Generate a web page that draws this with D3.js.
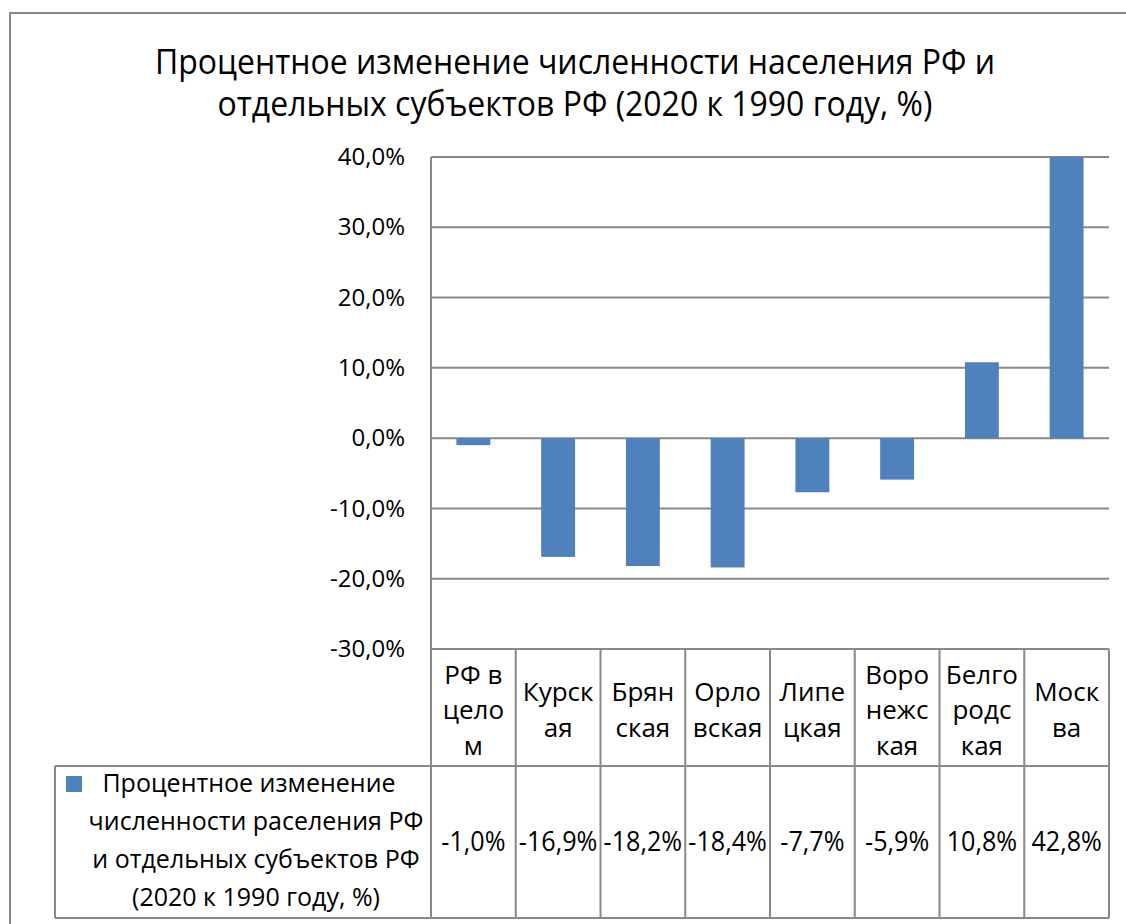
<!DOCTYPE html>
<html>
<head>
<meta charset="utf-8">
<script src="https://cdn.jsdelivr.net/npm/d3@7"></script>
<style>
  body { margin: 0; background: #fff; }
  svg text { font-family: "Open Sans", "DejaVu Sans", sans-serif; fill: #000; }
</style>
</head>
<body>
<div id="chart"></div>
<script>

var width = 1126;
var height = 924;

// data
var categories = ["РФ в целом", "Курская", "Брянская", "Орловская", "Липецкая", "Воронежская", "Белгородская", "Москва"];
var categoryLines = [["РФ в", "цело", "м"], ["Курск", "ая"], ["Брян", "ская"], ["Орло", "вская"], ["Липе", "цкая"], ["Воро", "нежс", "кая"], ["Белго", "родс", "кая"], ["Моск", "ва"]];
var values = [-1.0, -16.9, -18.2, -18.4, -7.7, -5.9, 10.8, 42.8];
var yTicks = [-30, -20, -10, 0, 10, 20, 30, 40];
var titleLines = ["Процентное изменение численности населения РФ и", "отдельных субъектов РФ (2020 к 1990 году, %)"];
var legendLines = ["Процентное изменение", "численности раселения РФ", "и отдельных субъектов РФ", "(2020 к 1990 году, %)"];

var ru = d3.formatLocale({decimal: ",", thousands: " ", grouping: [3], currency: ["", " ₽"], minus: "-"});
var fmt = ru.format(".1f");

var plotLeft = 431, plotRight = 1109, plotTop = 157, plotBottom = 649;
var rowSplit = 766, tableBottom = 918, legendLeft = 55;
var gridColor = "#898989";
var barColor = "#4f81bd";

var svg = d3.select("#chart").append("svg")
	.attr("width", width)
	.attr("height", height);

// outer frame
svg.append("path")
	.attr("d", "M10," + (height + 5) + "V13H" + (width + 5))
	.attr("fill", "none")
	.attr("stroke", gridColor)
	.attr("stroke-width", 2);

// title (slightly condensed, like the original)
svg.selectAll("text.title")
	.data(titleLines).enter()
	.append("text")
	.attr("class", "title")
	.attr("transform", function(d, i) { return "translate(575," + (62 + i * 42) + ") scale(0.94,1)"; })
	.attr("dy", "0.35em")
	.attr("text-anchor", "middle")
	.style("font-size", "34px")
	.text(function(d) { return d; });

var x = d3.scaleBand()
	.domain(categories)
	.range([plotLeft, plotRight])
	.paddingInner(0);

var y = d3.scaleLinear()
	.domain([-30, 40])
	.range([plotBottom, plotTop]);

// gridlines
svg.selectAll("line.grid")
	.data(yTicks).enter()
	.append("line")
	.attr("class", "grid")
	.attr("x1", plotLeft)
	.attr("x2", plotRight)
	.attr("y1", function(d) { return y(d); })
	.attr("y2", function(d) { return y(d); })
	.attr("stroke", gridColor)
	.attr("stroke-width", 2);

// y axis labels
var yAxis = d3.axisLeft(y)
	.tickValues(yTicks)
	.tickSize(0)
	.tickPadding(26)
	.tickFormat(function(d) { return fmt(d) + "%"; });

var yg = svg.append("g")
	.attr("transform", "translate(" + plotLeft + ",0)")
	.call(yAxis);
yg.select(".domain").remove();
yg.selectAll("text")
	.style("font-size", "24px")
	.style("font-family", "\"Open Sans\", sans-serif");

// bars, clipped to plot area
svg.append("clipPath").attr("id", "plotclip")
	.append("rect")
	.attr("x", plotLeft).attr("y", plotTop)
	.attr("width", plotRight - plotLeft).attr("height", plotBottom - plotTop);

var barW = x.bandwidth() / 2.5;
svg.append("g")
	.attr("clip-path", "url(#plotclip)")
	.selectAll("rect")
	.data(values).enter()
	.append("rect")
	.attr("x", function(d, i) { return x(categories[i]) + (x.bandwidth() - barW) / 2; })
	.attr("y", function(d) { return y(Math.max(0, d)); })
	.attr("width", barW)
	.attr("height", function(d) { return Math.abs(y(d) - y(0)); })
	.attr("fill", barColor);

// data table lines
var tbl = svg.append("g")
	.attr("stroke", gridColor)
	.attr("stroke-width", 2)
	.attr("fill", "none");

tbl.append("line")
	.attr("x1", plotLeft).attr("x2", plotLeft)
	.attr("y1", plotTop).attr("y2", tableBottom);

tbl.selectAll("line.col")
	.data(categories).enter()
	.append("line")
	.attr("class", "col")
	.attr("x1", function(d) { return x(d) + x.bandwidth(); })
	.attr("x2", function(d) { return x(d) + x.bandwidth(); })
	.attr("y1", plotBottom)
	.attr("y2", tableBottom);

tbl.append("line")
	.attr("x1", legendLeft).attr("x2", plotRight)
	.attr("y1", rowSplit).attr("y2", rowSplit);
tbl.append("line")
	.attr("x1", legendLeft).attr("x2", plotRight)
	.attr("y1", tableBottom).attr("y2", tableBottom);
tbl.append("line")
	.attr("x1", legendLeft).attr("x2", legendLeft)
	.attr("y1", rowSplit).attr("y2", tableBottom);

// category header cells
var headerMid = 710;
svg.selectAll("text.cat")
	.data(categoryLines).enter()
	.append("text")
	.attr("class", "cat")
	.attr("text-anchor", "middle")
	.style("font-size", "26px")
	.each(function(lines, i) {
		var t = d3.select(this);
		var cx = x(categories[i]) + x.bandwidth() / 2;
		var start = headerMid - (lines.length - 1) * 35.5 / 2;
		lines.forEach(function(l, j) {
			t.append("tspan")
				.attr("x", cx)
				.attr("y", start + j * 35.5)
				.attr("dy", "0.35em")
				.text(l);
		});
	});

// value cells
svg.selectAll("text.val")
	.data(values).enter()
	.append("text")
	.attr("class", "val")
	.attr("transform", function(d, i) { return "translate(" + (x(categories[i]) + x.bandwidth() / 2) + ",842) scale(0.95,1)"; })
	.attr("dy", "0.35em")
	.attr("text-anchor", "middle")
	.style("font-size", "26.5px")
	.text(function(d) { return fmt(d) + "%"; });

// legend cell
svg.append("rect")
	.attr("x", 66).attr("y", 776)
	.attr("width", 16).attr("height", 16)
	.attr("fill", barColor);

svg.selectAll("text.leg")
	.data(legendLines).enter()
	.append("text")
	.attr("class", "leg")
	.attr("x", function(d, i) { return i === 0 ? 249 : 256; })
	.attr("y", function(d, i) { return 783 + i * 38; })
	.attr("dy", "0.35em")
	.attr("text-anchor", "middle")
	.style("font-size", "25px")
	.text(function(d) { return d; });

</script>
</body>
</html>
